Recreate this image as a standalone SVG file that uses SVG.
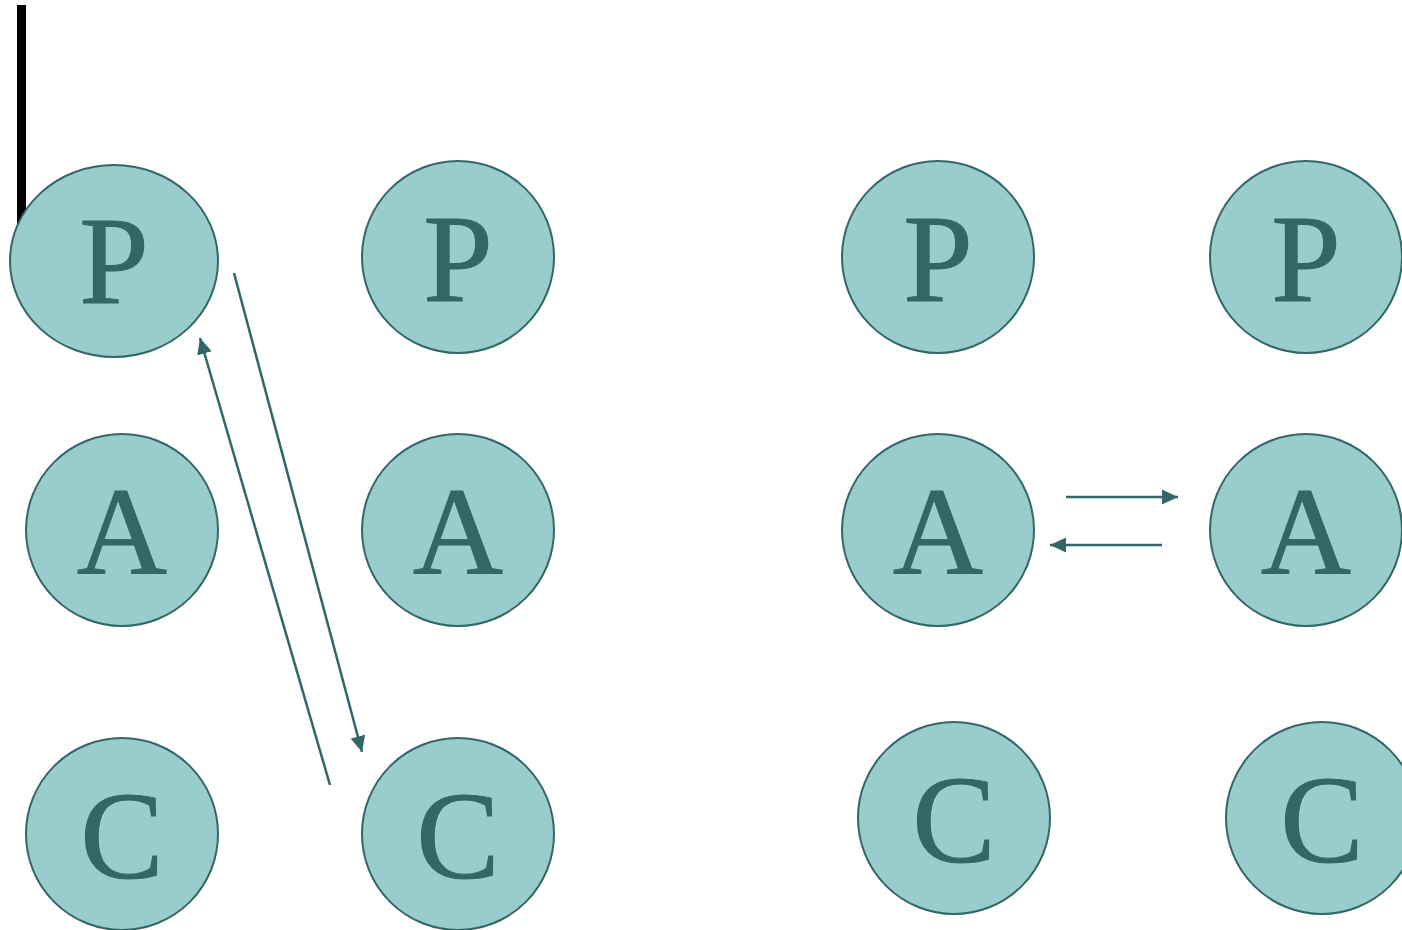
<svg xmlns="http://www.w3.org/2000/svg" width="1402" height="930" viewBox="0 0 1402 930">
  <style>
    .node { fill: #99CCCC; stroke: #336666; stroke-width: 2; }
    .lbl { fill: #336666; stroke: #336666; stroke-width: 1; font-size: 125px; text-anchor: middle; }
    .link { stroke: #336666; stroke-width: 2.5; fill: none; marker-end: url(#arrow); }
  </style>
  <defs>
    <marker id="arrow" markerUnits="userSpaceOnUse" markerWidth="17" markerHeight="15" refX="16" refY="7.5" orient="auto">
      <path d="M0,0 L16,7.5 L0,15 Z" fill="#336666"/>
    </marker>
  </defs>
  <rect width="1402" height="930" fill="#FFFFFF"/>
  <!-- vertical bar behind the first node -->
  <rect x="17" y="5" width="9" height="230" fill="#000000"/>

  <g font-family="Liberation Serif, serif">
    <g id="p1"><ellipse class="node" cx="114" cy="261" rx="104" ry="96"/><text class="lbl" x="114" y="303">P</text></g>
    <g id="p2"><circle class="node" cx="458" cy="257" r="96"/><text class="lbl" x="458" y="301">P</text></g>
    <g id="p3"><circle class="node" cx="938" cy="257" r="96"/><text class="lbl" x="938" y="301">P</text></g>
    <g id="p4"><circle class="node" cx="1306" cy="257" r="96"/><text class="lbl" x="1306" y="301">P</text></g>

    <g id="a1"><circle class="node" cx="122" cy="530" r="96"/><text class="lbl" x="122" y="574">A</text></g>
    <g id="a2"><circle class="node" cx="458" cy="530" r="96"/><text class="lbl" x="458" y="574">A</text></g>
    <g id="a3"><circle class="node" cx="938" cy="530" r="96"/><text class="lbl" x="938" y="574">A</text></g>
    <g id="a4"><circle class="node" cx="1306" cy="530" r="96"/><text class="lbl" x="1306" y="574">A</text></g>

    <g id="c1"><circle class="node" cx="122" cy="834" r="96"/><text class="lbl" x="122" y="878">C</text></g>
    <g id="c2"><circle class="node" cx="458" cy="834" r="96"/><text class="lbl" x="458" y="878">C</text></g>
    <g id="c3"><circle class="node" cx="954" cy="818" r="96"/><text class="lbl" x="954" y="862">C</text></g>
    <g id="c4"><circle class="node" cx="1322" cy="818" r="96"/><text class="lbl" x="1322" y="862">C</text></g>
  </g>

  <g id="connectors">
    <line class="link" x1="234" y1="273" x2="362" y2="752"/>
    <line class="link" x1="330" y1="785" x2="200" y2="338"/>
    <line class="link" x1="1066" y1="497" x2="1178" y2="497"/>
    <line class="link" x1="1162" y1="545" x2="1050" y2="545"/>
  </g>
</svg>
